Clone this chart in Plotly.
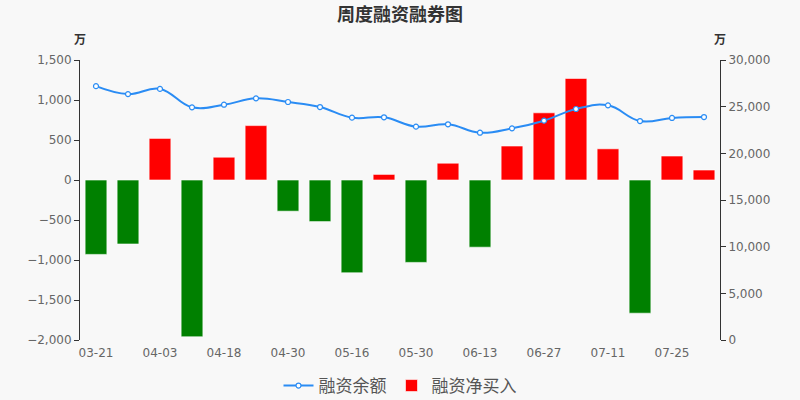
import plotly.graph_objects as go

dates = ["03-21", "03-28", "04-03", "04-11", "04-18", "04-25", "04-30", "05-09", "05-16", "05-23",
         "05-30", "06-06", "06-13", "06-20", "06-27", "07-04", "07-11", "07-18", "07-25", "08-01"]
balance = [27200, 26350, 26900, 24930, 25210, 25890, 25500, 24960, 23820, 23860,
           22860, 23110, 22210, 22680, 23500, 24750, 25140, 23460, 23790, 23890]
net_buy = [-930, -800, 520, -1960, 285, 680, -390, -520, -1160, 70,
           -1030, 210, -840, 425, 840, 1270, 390, -1665, 300, 125]

pos = [v if v >= 0 else None for v in net_buy]
neg = [v if v < 0 else None for v in net_buy]

left_range = [-2000, 1500]
zero_pos = (0 - left_range[0]) / (left_range[1] - left_range[0])

fig = go.Figure()
fig.add_trace(go.Bar(
    x=dates, y=pos, name="融资净买入", xaxis="x", yaxis="y", legendrank=2,
    marker=dict(color="#ff0000", line=dict(color="rgba(255,255,255,0.6)", width=1)),
))
fig.add_trace(go.Bar(
    x=dates, y=neg, name="融资净买入", xaxis="x", yaxis="y", showlegend=False,
    marker=dict(color="#008000", line=dict(color="rgba(255,255,255,0.6)", width=1)),
))
fig.add_trace(go.Scatter(
    x=dates, y=balance, name="融资余额", xaxis="x", yaxis="y2", legendrank=1,
    mode="lines+markers", line=dict(color="#2a8cf4", width=2, shape="spline", smoothing=1.2),
    marker=dict(size=5, color="white", line=dict(color="#2a8cf4", width=1.2)),
))

axis_col = "#333333"
fig.update_layout(
    width=800, height=400,
    margin=dict(l=80, r=80, t=60, b=60, autoexpand=False),
    paper_bgcolor="#f8f8f8", plot_bgcolor="#f8f8f8",
    font=dict(family="DejaVu Sans, Noto Sans CJK SC, sans-serif", size=12, color="#666666"),
    barmode="overlay", bargap=0.32,
    title=dict(text="周度融资融券图", x=0.5, xanchor="center", y=1 - 15 / 400, yanchor="middle",
               yref="container",
               font=dict(family="Noto Sans CJK SC", size=18, color="#333333", weight="bold")),
    xaxis=dict(type="category", range=[-0.5, 19.5], showline=False, ticks="", showgrid=False,
               zeroline=False, tickmode="linear", tick0=0, dtick=2, ticklabelstandoff=4,
               tickfont=dict(size=12, color="#666666")),
    xaxis2=dict(type="category", categoryarray=dates, categoryorder="array",
                range=[-0.5, 19.5], overlaying="x", anchor="free", position=zero_pos,
                side="bottom", showline=True, linecolor=axis_col, linewidth=1,
                ticks="outside", ticklen=5, tickcolor=axis_col, tickson="boundaries",
                tickmode="linear", tick0=0, dtick=2, showticklabels=False, showgrid=False, zeroline=False),
    yaxis=dict(range=left_range, dtick=500, tickformat=",", showgrid=False, zeroline=False,
               showline=True, linecolor=axis_col, ticks="outside", ticklen=5, tickcolor=axis_col,
               anchor="x"),
    yaxis2=dict(range=[0, 30000], dtick=5000, tickformat=",", showgrid=False, zeroline=False,
                showline=True, linecolor=axis_col, ticks="outside", ticklen=5, tickcolor=axis_col,
                overlaying="y", side="right", anchor="x"),
    legend=dict(orientation="h", x=0.5, xanchor="center", y=(340 - 386) / 280, yanchor="middle",
                bgcolor="rgba(0,0,0,0)", itemwidth=30,
                font=dict(family="Noto Sans CJK SC", size=17, color="#555555")),
    annotations=[
        dict(text="<b>万</b>", xref="paper", yref="paper", x=0, y=1, xanchor="center", yanchor="middle",
             yshift=22, showarrow=False, font=dict(family="Noto Sans CJK SC", size=12, color="#333333")),
        dict(text="<b>万</b>", xref="paper", yref="paper", x=1, y=1, xanchor="center", yanchor="middle",
             yshift=22, showarrow=False, font=dict(family="Noto Sans CJK SC", size=12, color="#333333")),
    ],
)

fig.write_html("out.html", config={"displayModeBar": False},
               post_script="document.body.style.margin='0';")
